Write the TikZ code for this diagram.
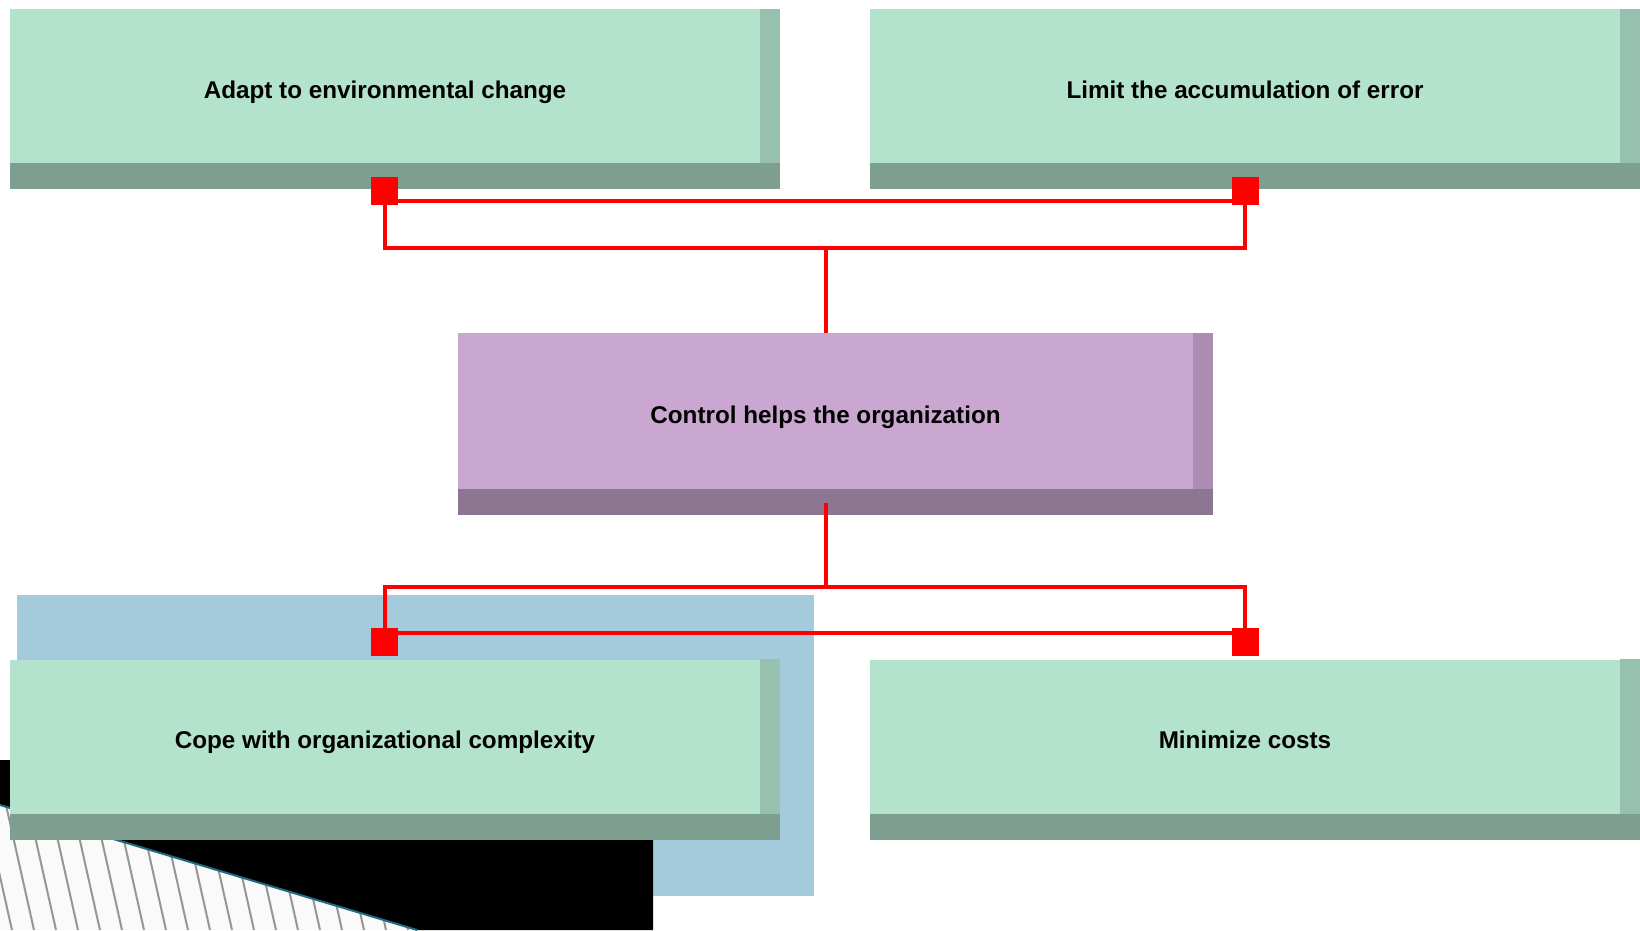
\documentclass[tikz,border=0pt]{standalone}
\usepackage{fontspec}
\setmainfont{Liberation Sans}
\usepackage{xcolor}
\usepackage{tikz}
\usetikzlibrary{arrows.meta, positioning, shapes}

\definecolor{mintface}{RGB}{179,226,205}
\definecolor{mintside}{RGB}{152,192,174}
\definecolor{mintbase}{RGB}{126,158,143}
\definecolor{lilacface}{RGB}{201,167,209}
\definecolor{lilacside}{RGB}{173,140,178}
\definecolor{lilacbase}{RGB}{141,118,146}
\definecolor{paleblue}{RGB}{163,203,220}
\definecolor{stripegray}{RGB}{150,150,150}
\definecolor{edgeteal}{RGB}{30,110,130}

\tikzset{
  facebox/.style={rectangle, inner sep=0pt, minimum width=15cm, minimum height=3.1cm,
    text height=1.35em, text depth=0pt,
    font=\fontsize{13.8pt}{16pt}\selectfont\bfseries},
  goalbox/.style={facebox, fill=mintface},
  hubbox/.style={facebox, fill=lilacface, minimum width=14.7cm, minimum height=3.14cm},
  joint/.style={rectangle, fill=red, inner sep=0pt, minimum width=0.54cm, minimum height=0.56cm},
  link/.style={red, line width=0.08cm}
}

\begin{document}
\begin{tikzpicture}[x=0.02cm, y=-0.02cm]
      \useasboundingbox (0,0) rectangle (1640,930);

      % Backdrop pieces at lower left
      \fill[paleblue] (17,595) rectangle (814,896);
      \fill[black] (0,760) -- (653,760) -- (653,930) -- (417,930) -- (0,805) -- cycle;
      \fill[white!98!black] (0,805) -- (417,930) -- (0,930) -- cycle;
      \begin{scope}
        \clip (0,805) -- (417,930) -- (0,930) -- cycle;
        \foreach \x in {-60,-38,...,420} {
          \draw[stripegray, line width=0.04cm] (\x,805) -- (\x+28,930);
        }
      \end{scope}
      \draw[edgeteal, line width=0.04cm] (0,805) -- (417,930);

      % Goal boxes
      \node[goalbox] (adapt) at (385,86.5) {Adapt to environmental change};
      \node[goalbox] (limit) at (1245,86.5) {Limit the accumulation of error};
      \node[goalbox] (cope) at (385,737) {Cope with organizational complexity};
      \node[goalbox] (cost) at (1245,737) {Minimize costs};

      % Central box
      \node[hubbox] (ctrl) at (825.5,411.5) {Control helps the organization};

      % Side and base shading
      \foreach \n in {adapt,limit,cope,cost} {
        \fill[mintside] (\n.north east) rectangle ([shift={(20,0)}]\n.south east);
        \fill[mintbase] ([shift={(0,-1)}]\n.south west) rectangle ([shift={(20,25)}]\n.south east);
      }
      \fill[lilacside] (ctrl.north east) rectangle ([shift={(20,0)}]ctrl.south east);
      \fill[lilacbase] ([shift={(0,-1)}]ctrl.south west) rectangle ([shift={(20,25)}]ctrl.south east);

      % Joints
      \node[joint] (jAdapt) at (384.5,191) {};
      \node[joint] (jLimit) at (1245,191) {};
      \node[joint] (jCope) at (384.5,642) {};
      \node[joint] (jCost) at (1245,642) {};

      \coordinate (upTee) at (ctrl.north |- 0,248);
      \coordinate (lowTee) at (ctrl.south |- 0,587);

      % Upper connectors
      \draw[link] ([shift={(0,10)}]jAdapt.center) -- ([shift={(0,10)}]jLimit.center);
      \draw[link] (jAdapt.south) |- (upTee) -| (jLimit.south);
      \draw[link] (upTee) -- (ctrl.north);

      % Lower connectors
      \draw[link] ([shift={(0,13)}]ctrl.south) -- (lowTee);
      \draw[link] (jCope.north) |- (lowTee) -| (jCost.north);
      \draw[link] ([shift={(0,-9)}]jCope.center) -- ([shift={(0,-9)}]jCost.center);

    \end{tikzpicture}
\end{document}
